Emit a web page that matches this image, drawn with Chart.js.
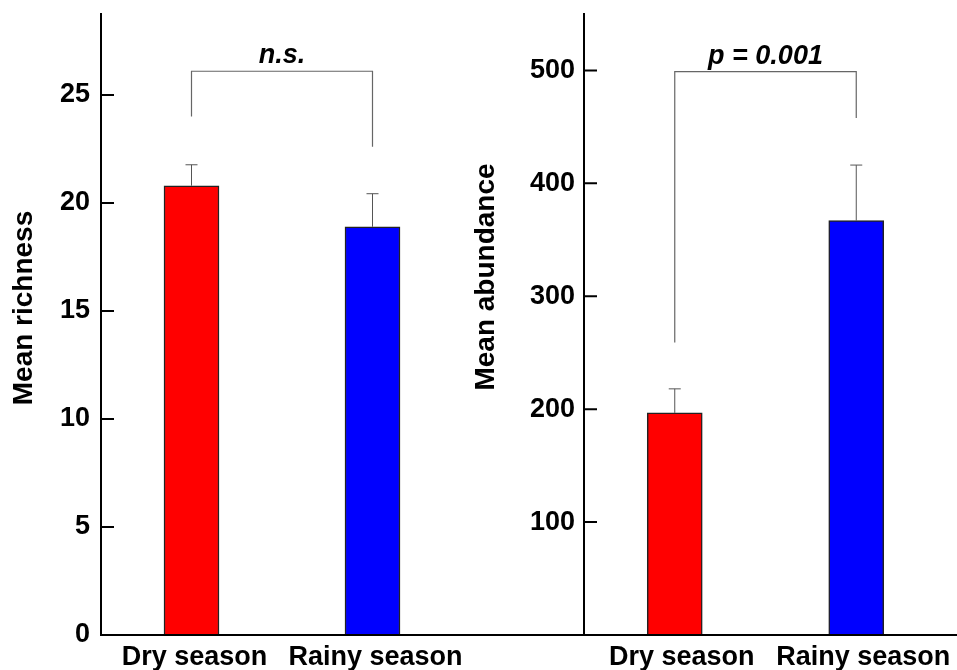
<!DOCTYPE html>
<html>
<head>
<meta charset="utf-8">
<script src="https://cdn.jsdelivr.net/npm/chart.js@4.4.1/dist/chart.umd.min.js"></script>
<style>
  body { margin: 0; background: #fff; }
  canvas { position: absolute; top: 0; }
  #izq { left: 0; }
  #der { left: 470px; }
</style>
</head>
<body>
<canvas id="izq" width="470" height="670"></canvas>
<canvas id="der" width="487" height="670"></canvas>
<script>
// datos
var categorias = ['Dry season', 'Rainy season'];
var riquezaMedia = [20.8, 18.9];
var riquezaError = [0.97, 1.53];
var abundanciaMedia = [196.7, 367.0];
var abundanciaError = [21.3, 49.2];
var riquezaTicks = [0, 5, 10, 15, 20, 25];
var abundanciaTicks = [100, 200, 300, 400, 500];
// corchete: [fin pata izquierda, linea superior, fin pata derecha]
var riquezaCorchete = [24.0, 26.1, 22.6];
var abundanciaCorchete = [259, 499, 458];
var colores = ['#ff0000', '#0000ff'];

var fuente = 'Liberation Sans, Arial, Helvetica, sans-serif';

// dibuja ejes, barras de error, corchete y titulo
var extras = {
    id: 'extras',
    afterDatasetsDraw: function(chart) {
        var o = chart.options.plugins.extras;
        var ctx = chart.ctx;
        var xs = chart.scales.x;
        var ys = chart.scales.y;
        var area = chart.chartArea;
        ctx.save();

        // barras de error
        ctx.strokeStyle = '#555';
        ctx.lineWidth = 1;
        var meta = chart.getDatasetMeta(0);
        meta.data.forEach(function(barra, i) {
            var arriba = ys.getPixelForValue(o.medias[i] + o.errores[i]);
            ctx.beginPath();
            ctx.moveTo(barra.x, barra.y);
            ctx.lineTo(barra.x, arriba);
            ctx.moveTo(barra.x - 6, arriba);
            ctx.lineTo(barra.x + 6, arriba);
            ctx.stroke();
        });

        // corchete
        var x1 = xs.getPixelForValue(0);
        var x2 = xs.getPixelForValue(1);
        var yTop = ys.getPixelForValue(o.corchete[1]);
        ctx.strokeStyle = '#666';
        ctx.lineWidth = 1.2;
        ctx.beginPath();
        ctx.moveTo(x1, ys.getPixelForValue(o.corchete[0]));
        ctx.lineTo(x1, yTop);
        ctx.lineTo(x2, yTop);
        ctx.lineTo(x2, ys.getPixelForValue(o.corchete[2]));
        ctx.stroke();

        ctx.fillStyle = '#000';
        ctx.font = 'italic bold 27px ' + fuente;
        ctx.textAlign = 'center';
        ctx.textBaseline = 'alphabetic';
        ctx.fillText(o.nota, (x1 + x2) / 2, yTop - 8);

        // linea del eje x
        ctx.strokeStyle = '#000';
        ctx.lineWidth = 2;
        ctx.beginPath();
        ctx.moveTo(o.lineaDesde === null ? area.left : o.lineaDesde, area.bottom);
        ctx.lineTo(chart.width, area.bottom);
        ctx.stroke();

        // marcas hacia adentro
        ctx.beginPath();
        ys.ticks.forEach(function(t) {
            var y = ys.getPixelForValue(t.value);
            ctx.moveTo(area.left, y);
            ctx.lineTo(area.left + 13, y);
        });
        ctx.stroke();

        // titulo del eje y
        ctx.translate(o.tituloX, o.tituloY);
        ctx.rotate(-Math.PI / 2);
        ctx.font = 'bold 28px ' + fuente;
        ctx.textBaseline = 'middle';
        ctx.fillText(o.titulo, 0, 0);
        ctx.restore();
    }
};

function grafica(id, medias, errores, ticks, maximo, corchete, nota, titulo, cfg) {
    var ctx = document.getElementById(id).getContext('2d');
    return new Chart(ctx, {
        type: 'bar',
        data: {
            labels: categorias,
            datasets: [{
                data: medias,
                backgroundColor: colores,
                borderColor: '#222',
                borderWidth: 1.5,
                barThickness: 55
            }]
        },
        options: {
            responsive: false,
            animation: false,
            devicePixelRatio: 1,
            layout: { padding: { top: 14, right: cfg.derecha, left: 0, bottom: 0 } },
            plugins: {
                legend: { display: false },
                tooltip: { enabled: false },
                extras: {
                    medias: medias, errores: errores, corchete: corchete, nota: nota,
                    titulo: titulo, tituloX: cfg.tituloX, tituloY: cfg.tituloY,
                    lineaDesde: cfg.lineaDesde
                }
            },
            scales: {
                x: {
                    grid: { display: false, drawTicks: false },
                    border: { display: false },
                    afterFit: function(s) {
                        s.height = 35;
                        s.paddingLeft = 0;
                        s.paddingRight = 0;
                    },
                    ticks: {
                        color: '#000',
                        padding: 6,
                        labelOffset: cfg.offset,
                        maxRotation: 0,
                        font: { family: fuente, size: 27, weight: 'bold' }
                    }
                },
                y: {
                    min: 0,
                    max: maximo,
                    grid: { display: false, drawTicks: false },
                    border: { display: true, color: '#000', width: 2 },
                    afterFit: function(s) {
                        s.width = cfg.ancho;
                        s.paddingTop = 0;
                        s.paddingBottom = 0;
                    },
                    afterBuildTicks: function(s) {
                        s.ticks = ticks.map(function(v) { return { value: v }; });
                    },
                    ticks: {
                        color: '#000',
                        padding: cfg.pad,
                        font: { family: fuente, size: 27, weight: 'bold' }
                    }
                }
            }
        },
        plugins: [extras]
    });
}

grafica('izq', riquezaMedia, riquezaError, riquezaTicks, 28.75, riquezaCorchete, 'n.s.', 'Mean richness',
    { ancho: 101, derecha: 7, pad: 11, offset: 3, tituloX: 24, tituloY: 308, lineaDesde: null });
grafica('der', abundanciaMedia, abundanciaError, abundanciaTicks, 550, abundanciaCorchete, 'p = 0.001', 'Mean abundance',
    { ancho: 114, derecha: 10, pad: 9, offset: 7, tituloX: 16, tituloY: 277, lineaDesde: 0 });
</script>
</body>
</html>
